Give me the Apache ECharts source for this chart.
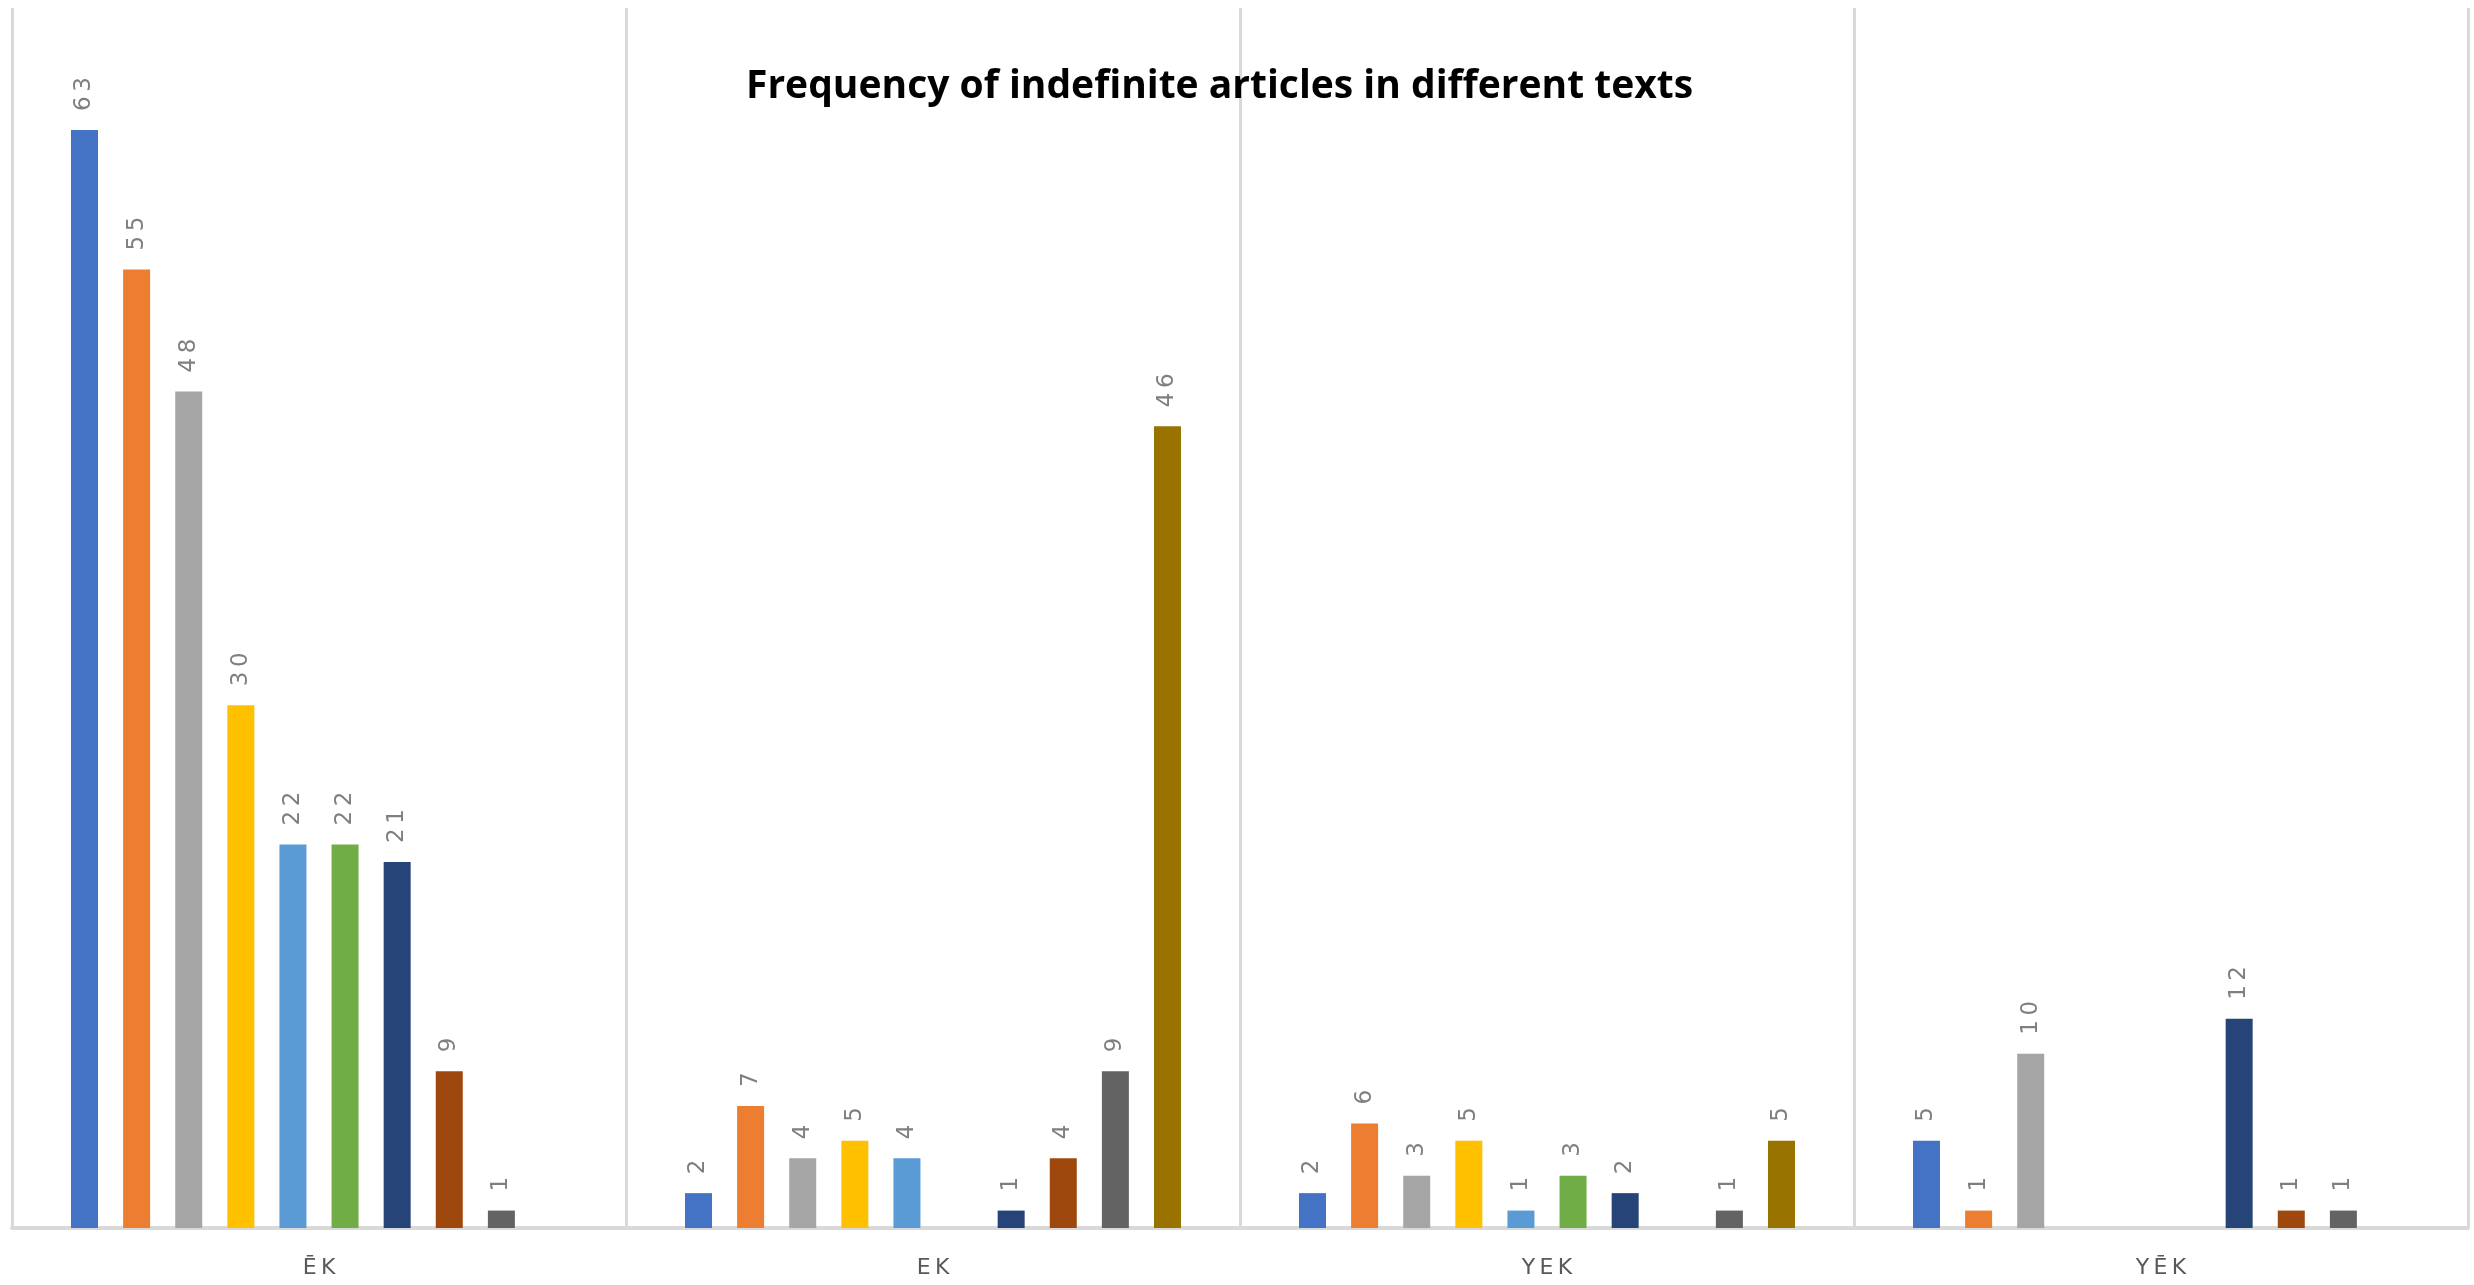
<!DOCTYPE html>
<html>
<head>
<meta charset="utf-8">
<title>Frequency of indefinite articles in different texts</title>
<script src="https://cdn.jsdelivr.net/npm/echarts@6/dist/echarts.min.js"></script>
<style>
  html, body { margin: 0; padding: 0; background: #ffffff; }
  #chart { width: 2474px; height: 1285px; }
</style>
</head>
<body>
<div id="chart"></div>
<script>
// Article forms on the x axis
const categories = ['ĒK', 'EK', 'YEK', 'YĒK'];

// One series per text; null = form not found in that text
const seriesNames = ['Text 1', 'Text 2', 'Text 3', 'Text 4', 'Text 5',
                     'Text 6', 'Text 7', 'Text 8', 'Text 9', 'Text 10'];
const text1  = [63, 2, 2, 5];
const text2  = [55, 7, 6, 1];
const text3  = [48, 4, 3, 10];
const text4  = [30, 5, 5, null];
const text5  = [22, 4, 1, null];
const text6  = [22, null, 3, null];
const text7  = [21, 1, 2, 12];
const text8  = [9, 4, null, 1];
const text9  = [1, 9, 1, 1];
const text10 = [null, 46, 5, null];

const seriesValues = [text1, text2, text3, text4, text5, text6, text7, text8, text9, text10];
const palette = ['#4472C4', '#ED7D31', '#A5A5A5', '#FFC000', '#5B9BD5',
                 '#70AD47', '#264478', '#9E480E', '#636363', '#997300'];

const spaced = s => String(s).split('').join('\u2009');

const chart = echarts.init(document.getElementById('chart'), null, { renderer: 'canvas' });

chart.setOption({
  animation: false,
  backgroundColor: '#ffffff',
  title: {
    text: 'Frequency of indefinite articles in different texts',
    left: 741,
    top: 62,
    textStyle: {
      fontFamily: 'Open Sans, sans-serif',
      fontWeight: 'bold',
      fontSize: 39,
      color: '#000000'
    }
  },
  grid: { left: 12, right: 6, top: 8, bottom: 57, containLabel: false },
  xAxis: {
    type: 'category',
    data: categories,
    boundaryGap: true,
    axisLine: { show: true, lineStyle: { color: '#D9D9D9', width: 4 } },
    axisTick: { show: false },
    splitLine: { show: true, interval: 0, lineStyle: { color: '#D9D9D9', width: 3 } },
    axisLabel: {
      color: '#595959',
      fontFamily: 'DejaVu Sans, sans-serif',
      fontSize: 22,
      margin: 29,
      formatter: v => spaced(v)
    }
  },
  yAxis: {
    type: 'value',
    min: 0,
    max: 70,
    show: false,
    splitLine: { show: false }
  },
  series: seriesValues.map((vals, i) => ({
    name: seriesNames[i],
    type: 'bar',
    data: vals,
    barWidth: 27,
    barGap: '93%',
    itemStyle: { color: palette[i] },
    label: {
      show: true,
      position: 'top',
      distance: 19,
      rotate: 90,
      align: 'left',
      verticalAlign: 'middle',
      color: '#7F7F7F',
      fontFamily: 'DejaVu Sans, sans-serif',
      fontSize: 23,
      formatter: p => spaced(p.value)
    }
  }))
});
</script>
</body>
</html>
